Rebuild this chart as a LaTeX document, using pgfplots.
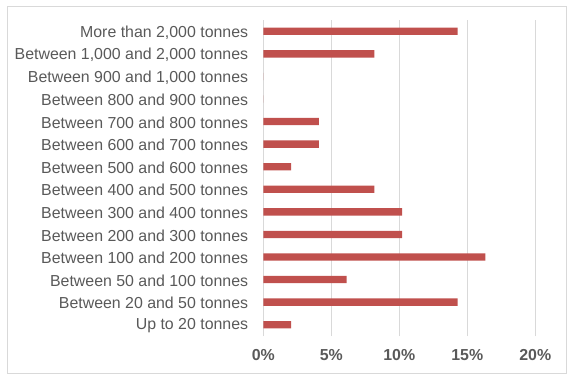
\documentclass[border=0pt]{standalone}
\usepackage{pgfplots}
\pgfplotsset{compat=1.18}
\usepackage{fontspec}
\setmainfont{Liberation Sans}
\definecolor{barred}{HTML}{C0504D}
\definecolor{txtgray}{HTML}{595959}
\definecolor{gridgray}{HTML}{D9D9D9}
\begin{document}
\begin{tikzpicture}[x=1bp,y=1bp]
\useasboundingbox (0,0) rectangle (573,381);
\draw[gridgray, line width=0.9bp] (7,8) rectangle (566,375);
\begin{axis}[
  at={(263.3bp,45bp)}, anchor=south west,
  scale only axis, width=272bp, height=316bp,
  xbar, bar width=7.3bp,
  xmin=0, xmax=20, ymin=-0.5, ymax=13.5,
  xtick={0,5,10,15,20},
  xticklabels={0\%,5\%,10\%,15\%,20\%},
  ytick={0,...,13},
  yticklabels={{Up to 20 tonnes}, {Between 20 and 50 tonnes}, {Between 50 and 100 tonnes}, {Between 100 and 200 tonnes}, {Between 200 and 300 tonnes}, {Between 300 and 400 tonnes}, {Between 400 and 500 tonnes}, {Between 500 and 600 tonnes}, {Between 600 and 700 tonnes}, {Between 700 and 800 tonnes}, {Between 800 and 900 tonnes}, {Between 900 and 1,000 tonnes}, {Between 1,000 and 2,000 tonnes}, {More than 2,000 tonnes}},
  axis line style={draw=none},
  major tick length=0pt,
  xmajorgrids, grid style={gridgray, line width=0.9bp},
  xticklabel style={font=\fontsize{15.9bp}{18bp}\selectfont\bfseries, text=txtgray, inner sep=0pt, anchor=north, yshift=-13bp},
  yticklabel style={font=\fontsize{15.9bp}{18bp}\selectfont, text=txtgray, inner sep=0pt, anchor=east, xshift=-15bp, yshift=-1bp},
]
\addplot[fill=barred, draw=none] coordinates {
  (2.04,0) (14.29,1) (6.12,2) (16.33,3) (10.20,4) (10.20,5) (8.16,6)
  (2.04,7) (4.08,8) (4.08,9) (0,10) (0,11) (8.16,12) (14.29,13)
};
\end{axis}
\end{tikzpicture}
\end{document}
